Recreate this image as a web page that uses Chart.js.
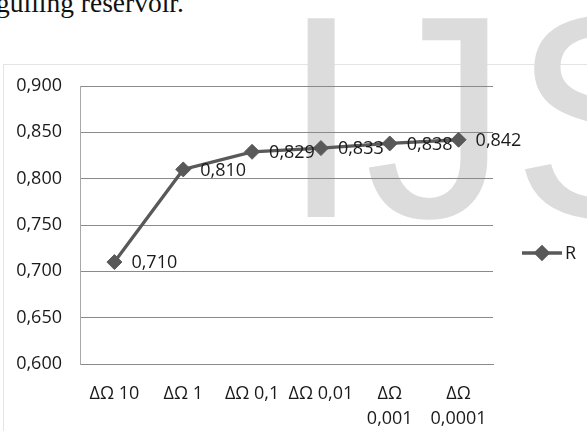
<!DOCTYPE html>
<html>
<head>
<meta charset="utf-8">
<script src="https://cdn.jsdelivr.net/npm/chart.js@4/dist/chart.umd.min.js"></script>
<style>
  html, body { margin: 0; padding: 0; background: #fff; }
  #page { position: relative; width: 587px; height: 431px; overflow: hidden; background: #fff; }
  #caption { position: absolute; left: -4px; top: -11px; font: 27.5px/27.5px "Liberation Serif", serif; color: #111; white-space: nowrap; }
  #mark { position: absolute; left: 281px; top: -28px; font: 289px/289px "Liberation Sans", sans-serif; color: #dcdcdc; white-space: nowrap; letter-spacing: 3px; }
  #frame { position: absolute; left: 3px; top: 64px; width: 700px; height: 500px; border: 1px solid #e4e4e4; }
  #wrap { position: absolute; left: 0; top: 0; width: 587px; height: 431px; }
</style>
</head>
<body>
<div id="page">
  <div id="caption">guiling reservoir.</div>
  <div id="frame"></div>
  <div id="mark">IJS</div>
  <div id="wrap"><canvas id="chart"></canvas></div>
</div>
<script>
// Categories (step sizes) and the R value obtained for each
const categories = ['ΔΩ 10', 'ΔΩ 1', 'ΔΩ 0,1', 'ΔΩ 0,01', ['ΔΩ', '0,001'], ['ΔΩ', '0,0001']];
const rValues = [0.710, 0.810, 0.829, 0.833, 0.838, 0.842];
const yTickValues = [0.600, 0.650, 0.700, 0.750, 0.800, 0.850, 0.900];
const seriesName = 'R';

const FONT = '"Open Sans", sans-serif';
const TEXT = '#1a1a1a';
const SERIES = '#595959';

const fmt = v => v.toFixed(3).replace('.', ',');

// Value labels to the right of each marker
const valueLabels = {
  id: 'valueLabels',
  afterDatasetsDraw(chart) {
    const ctx = chart.ctx;
    const meta = chart.getDatasetMeta(0);
    const data = chart.data.datasets[0].data;
    ctx.save();
    ctx.font = '18px ' + FONT;
    ctx.fillStyle = TEXT;
    ctx.textAlign = 'left';
    ctx.textBaseline = 'middle';
    meta.data.forEach((pt, i) => {
      ctx.fillText(fmt(data[i]), pt.x + 17, pt.y + 1);
    });
    ctx.restore();
  }
};

// Legend: line with diamond marker and series name
const lineLegend = {
  id: 'lineLegend',
  afterDraw(chart) {
    const ctx = chart.ctx;
    const ds = chart.data.datasets[0];
    const y = 253, x0 = 522, x1 = 562;
    ctx.save();
    ctx.strokeStyle = ds.borderColor;
    ctx.lineWidth = ds.borderWidth;
    ctx.beginPath();
    ctx.moveTo(x0, y);
    ctx.lineTo(x1, y);
    ctx.stroke();
    Chart.helpers.drawPoint(ctx, {
      pointStyle: 'rectRot', radius: 6, borderWidth: 1
    }, (x0 + x1) / 2, y);
    ctx.fillStyle = ds.pointBackgroundColor;
    ctx.fill();
    ctx.font = '18px ' + FONT;
    ctx.fillStyle = TEXT;
    ctx.textAlign = 'left';
    ctx.textBaseline = 'middle';
    ctx.fillText(ds.label, x1 + 3, y + 1);
    ctx.restore();
  }
};

new Chart(document.getElementById('chart'), {
  type: 'line',
  data: {
    labels: categories,
    datasets: [{
      label: seriesName,
      data: rValues,
      borderColor: SERIES,
      borderWidth: 3.3,
      pointStyle: 'rectRot',
      pointRadius: 7.5,
      pointHoverRadius: 7.5,
      pointBackgroundColor: SERIES,
      pointBorderColor: SERIES,
      pointBorderWidth: 1,
      tension: 0,
      fill: false
    }]
  },
  options: {
    responsive: true,
    maintainAspectRatio: false,
    animation: false,
    events: [],
    layout: { padding: { left: 0, top: 86, right: 94, bottom: 0 } },
    plugins: { legend: { display: false }, tooltip: { enabled: false } },
    scales: {
      x: {
        type: 'category',
        offset: true,
        afterFit(s) { s.height = 67; },
        grid: { display: false, drawTicks: false },
        border: { display: true, color: '#8a8a8a', width: 1 },
        ticks: {
          autoSkip: false, maxRotation: 0, minRotation: 0, padding: 17,
          color: TEXT, font: { family: FONT, size: 18, lineHeight: 1.4 }
        }
      },
      y: {
        min: 0.6, max: 0.9,
        afterFit(s) { s.width = 80; },
        afterBuildTicks(s) { s.ticks = yTickValues.map(v => ({ value: v })); },
        grid: { color: '#8a8a8a', lineWidth: 1, drawTicks: false },
        border: { display: true, color: '#a8a8a8', width: 1 },
        ticks: {
          padding: 18, color: TEXT,
          font: { family: FONT, size: 18 },
          callback: v => fmt(v)
        }
      }
    }
  },
  plugins: [valueLabels, lineLegend]
});
</script>
</body>
</html>
